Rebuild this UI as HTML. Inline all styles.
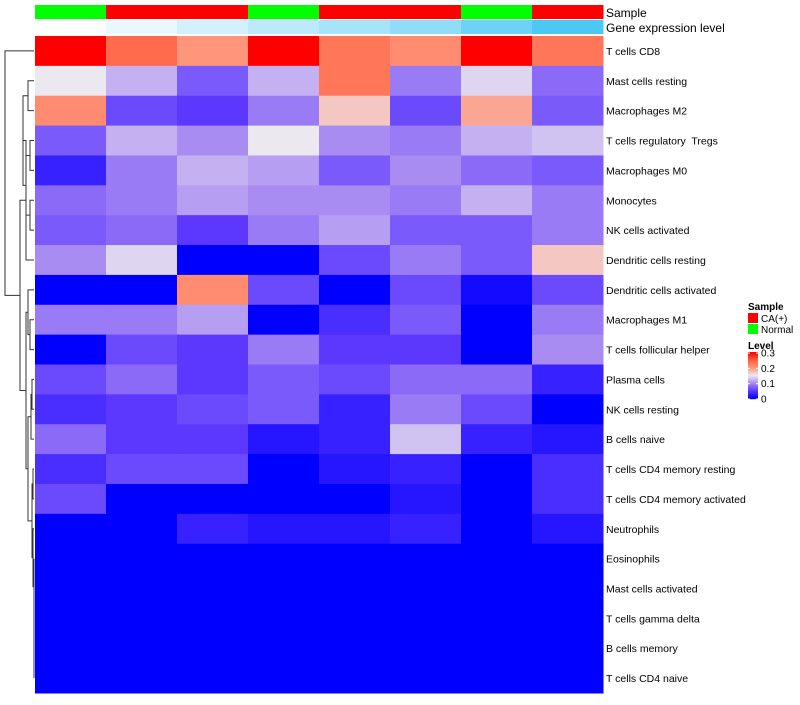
<!DOCTYPE html>
<html><head><meta charset="utf-8"><style>
body{margin:0;background:#fff;font-family:"Liberation Sans",Arial,sans-serif}
svg text{font-family:"Liberation Sans",Arial,sans-serif;white-space:pre}
</style></head><body>
<svg id="chart" width="800" height="700" xmlns="http://www.w3.org/2000/svg" font-family="Liberation Sans, Arial, sans-serif"></svg>
<script>
const rowLabels=["T cells CD8","Mast cells resting","Macrophages M2","T cells regulatory  Tregs","Macrophages M0","Monocytes","NK cells activated","Dendritic cells resting","Dendritic cells activated","Macrophages M1","T cells follicular helper","Plasma cells","NK cells resting","B cells naive","T cells CD4 memory resting","T cells CD4 memory activated","Neutrophils","Eosinophils","Mast cells activated","T cells gamma delta","B cells memory","T cells CD4 naive"];
const sampleGroups=["Normal","CA(+)","CA(+)","Normal","CA(+)","CA(+)","Normal","CA(+)"];
const geneLevels=[0,0.1,0.2,0.3,0.4,0.5,0.65,0.8];
const values=[
[0.3,0.24,0.2,0.3,0.23,0.21,0.3,0.23],
[0.15,0.12,0.07,0.12,0.23,0.09,0.14,0.08],
[0.21,0.06,0.05,0.09,0.17,0.06,0.19,0.07],
[0.07,0.12,0.10,0.15,0.10,0.09,0.12,0.13],
[0.03,0.09,0.12,0.11,0.07,0.10,0.08,0.07],
[0.08,0.09,0.11,0.10,0.10,0.09,0.12,0.09],
[0.07,0.08,0.05,0.09,0.11,0.07,0.07,0.09],
[0.10,0.14,0.0,0.0,0.06,0.09,0.07,0.17],
[0.0,0.0,0.21,0.06,0.0,0.06,0.01,0.06],
[0.09,0.09,0.11,0.0,0.04,0.07,0.0,0.09],
[0.0,0.06,0.05,0.09,0.05,0.05,0.0,0.10],
[0.06,0.08,0.05,0.07,0.06,0.08,0.08,0.03],
[0.04,0.05,0.06,0.07,0.03,0.09,0.06,0.0],
[0.08,0.05,0.05,0.02,0.03,0.13,0.03,0.02],
[0.04,0.06,0.06,0.0,0.02,0.03,0.0,0.04],
[0.06,0,0,0,0,0.02,0,0.04],
[0,0,0.03,0.02,0.02,0.03,0,0.02],
[0,0,0,0,0,0,0,0],[0,0,0,0,0,0,0,0],[0,0,0,0,0,0,0,0],[0,0,0,0,0,0,0,0],[0,0,0,0,0,0,0,0]];
const legendTicks=[0,0.1,0.2,0.3];
const tree=[5,0,[20,[26,[23,[28,1,2],[26,[30,3,4],[30,5,6]]],7],[26,[28,8,[30,9,10]],[28,[31,[32,11,12],13],[32,[33,14,15],[33,16,[34,17,[34,18,[34,19,[34,20,21]]]]]]]]]];

const NS="http://www.w3.org/2000/svg",svg=document.getElementById('chart');
function mk(t,a,p){const e=document.createElementNS(NS,t);for(const k in a)e.setAttribute(k,a[k]);(p||svg).appendChild(e);return e;}
const x0=35,x1=603,y0=36,y1=693,nc=8,nr=rowLabels.length,cw=(x1-x0)/nc,rh=(y1-y0)/nr;
const xS=c=>x0+c*cw, yS=r=>y0+r*rh;
function lerp(a,b,t){return a.map((v,i)=>Math.round(v+(b[i]-v)*t));}
const stops=[[0,[0,0,255]],[0.05,[92,56,255]],[0.1,[168,140,242]],[0.15,[236,232,240]],[0.2,[255,150,124]],[0.25,[255,96,64]],[0.3,[255,0,0]]];
function col(v){const t=Math.max(0,Math.min(0.3,v));
 for(let i=1;i<stops.length;i++){if(t<=stops[i][0]){const a=stops[i-1],b=stops[i];return 'rgb('+lerp(a[1],b[1],(t-a[0])/(b[0]-a[0]))+')';}}
 return 'rgb(255,0,0)';}
sampleGroups.forEach((g,c)=>{const e=mk('rect',{x:xS(c),y:5,width:cw+0.5,height:14,fill:g==="Normal"?'#00ff00':'#ff0000'});
});
geneLevels.forEach((g,c)=>{const e=mk('rect',{x:xS(c),y:20,width:cw+0.5,height:14,fill:'rgb('+lerp([255,255,255],[76,200,245],g/0.8)+')'});
});
let t=mk('text',{x:606,y:17,'font-size':12});t.textContent='Sample';
t=mk('text',{x:606,y:32,'font-size':12});t.textContent='Gene expression level';
values.forEach((row,r)=>{row.forEach((v,c)=>{const e=mk('rect',{x:xS(c),y:yS(r),width:cw+0.5,height:rh+0.5,fill:col(v)});
});
const l=mk('text',{x:606,y:yS(r)+rh/2+4,'font-size':10.5});l.textContent=rowLabels[r];
});
function draw(n){if(typeof n==='number')return {x:34,y:yS(n)+rh/2};
 const a=draw(n[1]),b=draw(n[2]),h=n[0];
 const p=mk('path',{d:`M${a.x},${a.y}H${h}V${b.y}H${b.x}`,fill:'none',stroke:'#333','stroke-width':1});
 
 return {x:h,y:(a.y+b.y)/2};}
draw(tree);
const g=mk('g',{});
t=mk('text',{x:748,y:310,'font-size':10,'font-weight':'bold'},g);t.textContent='Sample';
[['CA(+)','#ff0000',313],['Normal','#00ff00',324]].forEach(([n,c,y])=>{const r=mk('rect',{x:748,y:y,width:10,height:10,fill:c},g);

const tx=mk('text',{x:761,y:y+9,'font-size':10},g);tx.textContent=n;});
t=mk('text',{x:748,y:349,'font-size':10,'font-weight':'bold'},g);t.textContent='Level';
const gy0=352,gy1=399;
for(let i=0;i<47;i++){const v=0.3*(1-i/46);mk('rect',{x:748,y:gy0+i,width:10,height:1.2,fill:col(v)},g);}
legendTicks.forEach(v=>{const y=gy1-(v/0.3)*(gy1-gy0-1);mk('line',{x1:748,x2:750,y1:y,y2:y,stroke:'#fff'},g);mk('line',{x1:756,x2:758,y1:y,y2:y,stroke:'#fff'},g);
const tx=mk('text',{x:761,y:y+3.5,'font-size':10},g);tx.textContent=v===0?'0':String(v);});
</script></body></html>
